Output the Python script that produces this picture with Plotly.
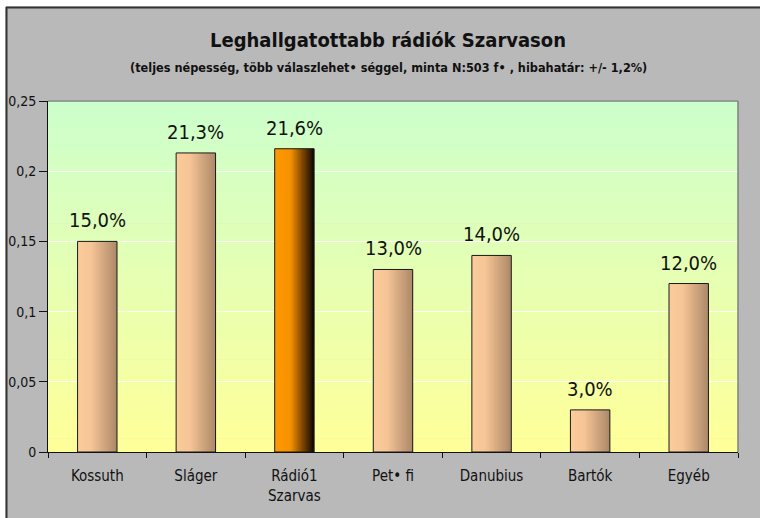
import plotly.graph_objects as go

categories = ["Kossuth", "Sláger", "Rádió1<br>Szarvas", "Pet• fi", "Danubius", "Bartók", "Egyéb"]
values = [0.150, 0.213, 0.216, 0.130, 0.140, 0.030, 0.120]
highlight = [False, False, True, False, False, False, False]
ytick_vals = [0, 0.05, 0.10, 0.15, 0.20, 0.25]
ytick_text = ["0", "0,05", "0,1", "0,15", "0,2", "0,25"]
title_text = "Leghallgatottabb rádiók Szarvason"
subtitle_text = "(teljes népesség, több válaszlehet• séggel, minta N:503 f• , hibahatár: +/- 1,2%)"

FONT = "Liberation Sans Narrow, Arial Narrow, DejaVu Sans Condensed, sans-serif"
W, H = 760, 518
ML, MR, MT, MB = 48, 22, 101, 66
PW, PH = W - ML - MR, H - MT - MB

def lerp(stops, t):
    for (t0, c0), (t1, c1) in zip(stops, stops[1:]):
        if t0 <= t <= t1:
            f = (t - t0) / (t1 - t0) if t1 > t0 else 0
            c = [round(a + (b - a) * f) for a, b in zip(c0, c1)]
            return f"rgb({c[0]},{c[1]},{c[2]})"
    c = stops[-1][1]
    return f"rgb({c[0]},{c[1]},{c[2]})"

peach = [(0, (252, 204, 156)), (0.35, (246, 196, 150)), (1, (172, 136, 104))]
orange = [(0, (255, 153, 0)), (0.4, (246, 146, 0)), (0.7, (130, 72, 0)), (1, (12, 6, 0))]

BW = 0.4
N = 30
sw = BW / N
fig = go.Figure()
for i in range(N):
    t = (i + 0.5) / N
    cols = [lerp(orange if h else peach, t) for h in highlight]
    width = sw * 1.6 if i < N - 1 else sw
    fig.add_trace(go.Bar(
        x=categories, y=values, width=width, offset=-BW / 2 + i * sw,
        marker=dict(color=cols, line=dict(width=0)),
        hoverinfo="skip", showlegend=False,
    ))

fig.add_trace(go.Bar(
    x=categories, y=values, width=BW, offset=-BW / 2,
    marker=dict(color="rgba(0,0,0,0)", line=dict(color="#1a1a1a", width=1)),
    hoverinfo="skip", showlegend=False,
))

labels = [f"{v*100:.1f}%".replace(".", ",") for v in values]
annotations = [dict(x=c, y=v, text=lab, xref="x", yref="y", xanchor="center", yanchor="bottom",
                    yshift=7, showarrow=False, font=dict(family=FONT, size=20, color="#111111"))
               for c, v, lab in zip(categories, values, labels)]

shapes = []
NS = 80
for k in range(NS):
    t = k / (NS - 1)
    c0 = (255, 255, 153)
    c1 = (204, 255, 204)
    c = [round(a + (b - a) * t) for a, b in zip(c0, c1)]
    shapes.append(dict(type="rect", xref="x domain", yref="y domain",
                       x0=0, x1=1, y0=k / NS, y1=(k + 1) / NS + 0.002,
                       fillcolor=f"rgb({c[0]},{c[1]},{c[2]})", line=dict(width=0), layer="below"))
shapes.append(dict(type="line", xref="x domain", yref="y domain", x0=0, x1=1, y0=1, y1=1,
                   line=dict(color="#808080", width=1.5), layer="above"))
shapes.append(dict(type="line", xref="x domain", yref="y domain", x0=1, x1=1, y0=0, y1=1,
                   line=dict(color="#808080", width=1.5), layer="above"))

def px_x(p):
    return (p - ML) / PW

def px_y(p):
    return (H - MB - p) / PH

shapes.append(dict(type="rect", xref="paper", yref="paper", x0=px_x(-5), x1=px_x(W + 5),
                   y0=px_y(6.5), y1=px_y(-5), fillcolor="white", line=dict(width=0), layer="above"))
shapes.append(dict(type="rect", xref="paper", yref="paper", x0=px_x(-5), x1=px_x(5.5),
                   y0=px_y(H + 5), y1=px_y(-5), fillcolor="white", line=dict(width=0), layer="above"))
shapes.append(dict(type="line", xref="paper", yref="paper", x0=px_x(6), x1=px_x(W + 5),
                   y0=px_y(7.5), y1=px_y(7.5), line=dict(color="#333333", width=2), layer="above"))
shapes.append(dict(type="line", xref="paper", yref="paper", x0=px_x(6.5), x1=px_x(6.5),
                   y0=px_y(7), y1=px_y(H + 5), line=dict(color="#333333", width=2), layer="above"))

annotations.append(dict(text=f"<b>{subtitle_text}</b>", xref="paper", yref="paper",
                        x=px_x(388), y=px_y(68), xanchor="center", yanchor="middle",
                        showarrow=False, font=dict(family=FONT, size=12.6, color="#111111")))

fig.update_layout(
    width=W, height=H,
    margin=dict(l=ML, r=MR, t=MT, b=MB, autoexpand=False),
    paper_bgcolor="#B9B9B9", plot_bgcolor="rgba(0,0,0,0)",
    barmode="overlay",
    shapes=shapes,
    title=dict(text=f"<b>{title_text}</b>", x=388 / W, xanchor="center", xref="container",
               y=1 - 40 / H, yanchor="middle", yref="container",
               font=dict(family=FONT, size=20, color="#111111")),
    annotations=annotations,
    font=dict(family=FONT, color="#111111"),
)
fig.update_xaxes(type="category", showgrid=False, showline=True, linecolor="#111111", linewidth=1,
                 ticks="outside", ticklen=5, tickcolor="#111111", tickson="boundaries",
                 tickfont=dict(family=FONT, size=15, color="#111111"), ticklabelstandoff=10,
                 range=[-0.5, 6.5], fixedrange=True, automargin=False)
fig.update_yaxes(range=[0, 0.25], tickvals=ytick_vals, ticktext=ytick_text,
                 showgrid=True, gridcolor="rgba(255,255,255,0.9)", gridwidth=1,
                 showline=True, linecolor="#111111", linewidth=1,
                 ticks="outside", ticklen=8, tickcolor="#111111", automargin=False,
                 tickfont=dict(family=FONT, size=14, color="#111111"), zeroline=False)

fig.write_html("out.html", config={"displayModeBar": False},
               post_script="document.body.style.margin='0';document.body.style.overflow='hidden';")
